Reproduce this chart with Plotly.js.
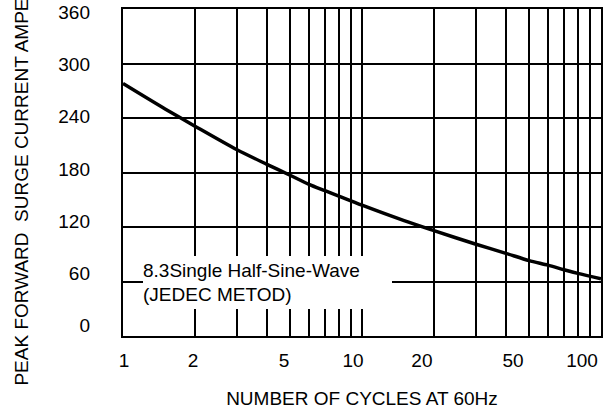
<!DOCTYPE html>
<html>
<head>
<meta charset="utf-8">
<script src="https://cdn.plot.ly/plotly-3.0.1.min.js"></script>
<style>html,body{margin:0;padding:0;background:#fff;}#chart{width:603px;height:411px;}</style>
</head>
<body>
<div id="chart"></div>
<script>
// Surge current curve (number of cycles at 60Hz -> peak forward surge current, A)
const cycles = [1, 1.5, 2, 3, 4, 5, 6, 7, 8, 10, 15, 20, 30, 40, 50, 60, 70, 80, 100];
const surgeAmps = [278, 250, 231, 205, 189, 177, 167, 160, 154, 144, 127, 116, 101, 91, 83, 78, 73, 69, 63];

// Grid lines (log decades) and tick labels
const xGridVals = [1, 2, 3, 4, 5, 6, 7, 8, 9, 10, 20, 30, 40, 50, 60, 70, 80, 90, 100];
const xTickVals = [1, 2, 5, 10, 20, 50, 100];
const xTickText = ['1', '2', '5', '10', '20', '50', '100'];
const yGridVals = [0, 60, 120, 180, 240, 300, 360];
const yTickVals = [0, 60, 120, 180, 240, 300, 360];
const yTickText = ['0', '60', '120', '180', '240', '300', '360'];

const FONT = 'Liberation Sans, Arial, sans-serif';

const traces = [
  {
    x: cycles, y: surgeAmps, type: 'scatter', mode: 'lines',
    line: {color: '#000', width: 3.5, shape: 'spline', smoothing: 0.8},
    xaxis: 'x', yaxis: 'y', showlegend: false, hoverinfo: 'skip'
  },
  {
    x: [], y: [], type: 'scatter', mode: 'lines',
    xaxis: 'x2', yaxis: 'y2', showlegend: false, hoverinfo: 'skip'
  }
];

const layout = {
  width: 603, height: 411,
  margin: {l: 123, r: 2, t: 9, b: 75},
  paper_bgcolor: '#fff', plot_bgcolor: '#fff',
  font: {family: FONT, size: 19, color: '#000'},
  showlegend: false,
  xaxis: {
    type: 'log', range: [0, 2],
    tickmode: 'array', tickvals: xGridVals, showticklabels: false, ticks: '',
    showgrid: true, gridcolor: '#000', gridwidth: 2,
    showline: true, linecolor: '#000', linewidth: 2, mirror: true,
    zeroline: false, fixedrange: true
  },
  yaxis: {
    range: [0, 360],
    tickmode: 'array', tickvals: yGridVals, showticklabels: false, ticks: '',
    showgrid: true, gridcolor: '#000', gridwidth: 2,
    showline: true, linecolor: '#000', linewidth: 2, mirror: true,
    zeroline: false, fixedrange: true
  },
  xaxis2: {
    type: 'log', range: [-0.0044, 2.083], overlaying: 'x', side: 'bottom', anchor: 'y',
    tickmode: 'array', tickvals: xTickVals, ticktext: xTickText, ticks: '',
    ticklabelstandoff: 11,
    showgrid: false, showline: false, zeroline: false, fixedrange: true,
    tickfont: {family: FONT, size: 19, color: '#000'},
    title: {text: 'NUMBER OF CYCLES AT 60Hz', font: {family: FONT, size: 19, color: '#000'}, standoff: 21}
  },
  yaxis2: {
    range: [-12.1, 364.0], overlaying: 'y', side: 'left', anchor: 'x',
    tickmode: 'array', tickvals: yTickVals, ticktext: yTickText, ticks: '',
    ticklabelstandoff: 32,
    showgrid: false, showline: false, zeroline: false, fixedrange: true,
    tickfont: {family: FONT, size: 19, color: '#000'},
    title: {text: 'PEAK FORWARD\u00a0 SURGE CURRENT AMPERES', font: {family: FONT, size: 19, color: '#000'}, standoff: 24}
  },
  annotations: [{
    xref: 'paper', yref: 'paper', x: 0.0418, y: 0.2446,
    xanchor: 'left', yanchor: 'top',
    width: 249, height: 53, align: 'left', valign: 'middle',
    bgcolor: '#fff', borderpad: 0, borderwidth: 0, showarrow: false,
    text: '8.3Single Half-Sine-Wave<br>(JEDEC METOD)',
    font: {family: FONT, size: 19, color: '#000'}
  }]
};

Plotly.newPlot('chart', traces, layout, {staticPlot: true, displayModeBar: false});
</script>
</body>
</html>
